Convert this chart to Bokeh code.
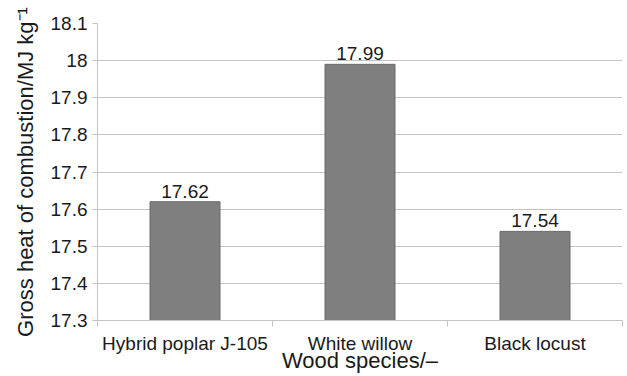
from bokeh.plotting import figure
from bokeh.models import ColumnDataSource, FixedTicker, NumeralTickFormatter, Range1d
from bokeh.core.properties import value
from bokeh.embed import file_html
from bokeh.resources import INLINE

categories = ["Hybrid poplar J-105", "White willow", "Black locust"]
heat_values = [17.62, 17.99, 17.54]
value_labels = ["17.62", "17.99", "17.54"]
y_ticks = [17.3, 17.4, 17.5, 17.6, 17.7, 17.8, 17.9, 18.0, 18.1]
y_min, y_max = 17.3, 18.1
x_title = "Wood species/\u2013"
y_title = "Gross heat of combustion/MJ kg\u207b\u00b9"

FONT = "Liberation Sans"
TXT = "#1a1a1a"
GRID = "#c4c4c4"

centers = [i + 0.5 for i in range(len(categories))]
bounds = [float(i) for i in range(len(categories) + 1)]

src = ColumnDataSource(dict(x=centers, top=heat_values, lab=value_labels))

p = figure(width=627, height=376, output_backend="svg", toolbar_location=None,
           x_range=Range1d(0, len(categories)), y_range=Range1d(y_min, y_max),
           min_border_left=97, min_border_right=5, min_border_top=23, min_border_bottom=56)
p.outline_line_color = None
p.background_fill_color = "white"

p.vbar(x="x", top="top", bottom=y_min, width=0.4, source=src,
       fill_color="#7f7f7f", line_color="#6a6a6a", line_width=1)
p.text(x="x", y="top", text="lab", source=src, y_offset=-4,
       text_align="center", text_baseline="bottom",
       text_font=value(FONT), text_font_size="19px", text_color=TXT)

# y axis
p.yaxis.ticker = FixedTicker(ticks=y_ticks)
p.yaxis.formatter = NumeralTickFormatter(format="0.[0]")
p.yaxis.axis_line_color = GRID
p.yaxis.major_tick_line_color = GRID
p.yaxis.major_tick_out = 5
p.yaxis.major_tick_in = 0
p.yaxis.minor_tick_line_color = None
p.yaxis.major_label_text_font = FONT
p.yaxis.major_label_text_font_size = "19px"
p.yaxis.major_label_text_color = TXT
p.yaxis.major_label_standoff = 5
p.yaxis.axis_label = y_title
p.yaxis.axis_label_text_font = FONT
p.yaxis.axis_label_text_font_size = "22px"
p.yaxis.axis_label_text_font_style = "normal"
p.yaxis.axis_label_text_color = TXT
p.yaxis.axis_label_standoff = 10

# x axis
p.xaxis.ticker = FixedTicker(ticks=centers, minor_ticks=bounds)
p.xaxis.major_label_overrides = {c: n for c, n in zip(centers, categories)}
p.xaxis.axis_line_color = GRID
p.xaxis.major_tick_line_color = None
p.xaxis.major_tick_out = 0
p.xaxis.major_tick_in = 0
p.xaxis.minor_tick_line_color = GRID
p.xaxis.minor_tick_out = 6
p.xaxis.minor_tick_in = 0
p.xaxis.major_label_text_font = FONT
p.xaxis.major_label_text_font_size = "19px"
p.xaxis.major_label_text_color = TXT
p.xaxis.major_label_standoff = 6
p.xaxis.axis_label = x_title
p.xaxis.axis_label_text_font = FONT
p.xaxis.axis_label_text_font_size = "22px"
p.xaxis.axis_label_text_font_style = "normal"
p.xaxis.axis_label_text_color = TXT
p.xaxis.axis_label_standoff = -9

p.xgrid.grid_line_color = None
p.ygrid.ticker = FixedTicker(ticks=y_ticks)
p.ygrid.grid_line_color = GRID
p.ygrid.grid_line_width = 1

open("out.html", "w").write(file_html(p, INLINE))
